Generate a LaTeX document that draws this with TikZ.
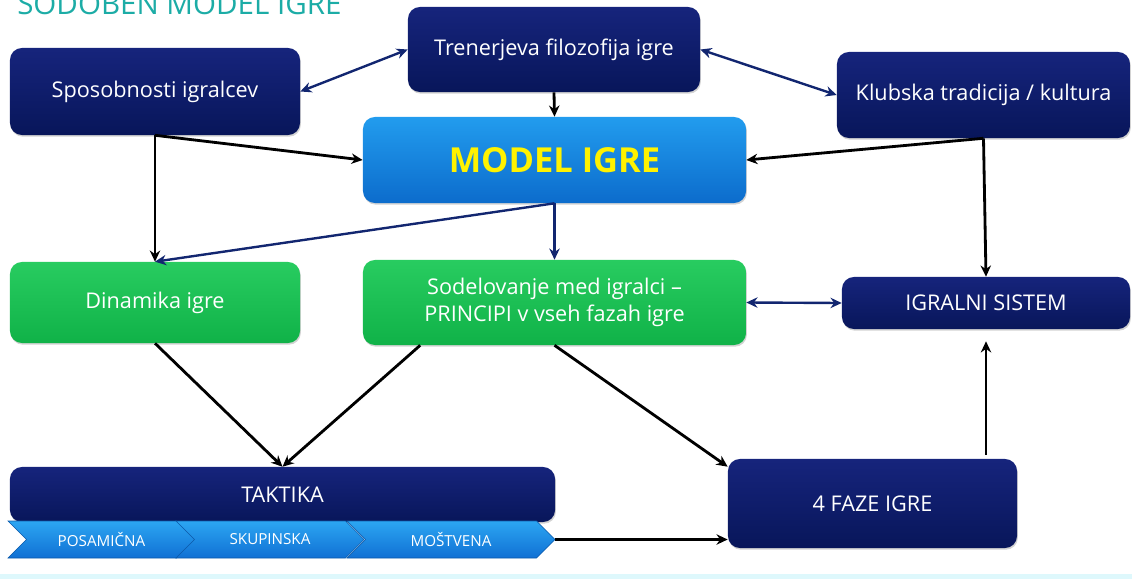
\documentclass[tikz,border=0pt]{standalone}
\usepackage{fontspec}
\setmainfont{Open Sans}
\usepackage{tikz}
\usetikzlibrary{arrows.meta, positioning, calc, shapes.symbols, shadows}
\definecolor{navytop}{RGB}{22,36,124}
\definecolor{navybot}{RGB}{8,22,90}
\definecolor{modeltop}{RGB}{34,156,238}
\definecolor{modelbot}{RGB}{12,108,204}
\definecolor{greentop}{RGB}{40,204,96}
\definecolor{greenbot}{RGB}{16,178,72}
\definecolor{chevtop}{RGB}{44,166,242}
\definecolor{chevbot}{RGB}{16,112,212}
\definecolor{linknavy}{RGB}{18,38,112}
\definecolor{titleteal}{RGB}{28,172,166}
\definecolor{modelyellow}{RGB}{255,242,0}
\definecolor{bandcyan}{RGB}{222,248,252}

\tikzset{
  box/.style={rounded corners=3mm, text=white, align=center, inner sep=0pt,
    font=\fontsize{15.4}{19.5}\selectfont,
    drop shadow={opacity=0.35, shadow xshift=0.6pt, shadow yshift=-1.2pt}},
  navybox/.style={box, top color=navytop, bottom color=navybot},
  greenbox/.style={box, top color=greentop, bottom color=greenbot},
  modelbox/.style={box, top color=modeltop, bottom color=modelbot},
  chevron/.style={signal, signal from=west, signal to=east, signal pointer angle=90,
    top color=chevtop, bottom color=chevbot, draw=chevbot!80!black, line width=0.4pt,
    text=white, minimum height=0.925cm, inner sep=0pt, font=\fontsize{10.8}{12}\selectfont},
  blackarrow/.style={-{Stealth[length=2.8mm,width=2.6mm]}, line width=2pt, black},
  navyarrow/.style={-{Stealth[length=2.8mm,width=2.6mm]}, line width=1.7pt, linknavy},
  navyboth/.style={navyarrow, {Stealth[length=2.8mm,width=2.6mm]}-{Stealth[length=2.8mm,width=2.6mm]}},
}

\begin{document}
\begin{tikzpicture}[x=0.025cm, y=-0.025cm]
\useasboundingbox (0,0) rectangle (1132,579);
\fill[bandcyan] (0,574) rectangle (1132,579);

% Title (cut at the top)
\node[anchor=base west, text=titleteal, inner sep=0pt,
      font=\fontsize{21}{24}\selectfont] (title) at (17,14) {SODOBEN MODEL IGRE};

% Top row
\node[navybox, minimum width=7.25cm, minimum height=2.175cm] (spos) at (155,91.5) {Sposobnosti igralcev};
\node[navybox, minimum width=7.3cm, minimum height=2.125cm] (trener) at (554,49.5) {Trenerjeva filozofija igre};
\node[navybox, minimum width=7.325cm, minimum height=2.15cm] (klub) at (983.5,95) {Klubska tradicija / kultura};

% Model
\node[modelbox, minimum width=9.575cm, minimum height=2.15cm, text=modelyellow,
      font=\fontsize{24.5}{28}\selectfont\bfseries] (model) at (554.5,160) {MODEL IGRE};

% Middle row
\node[greenbox, minimum width=7.25cm, minimum height=2.025cm] (dinam) at (155,302.5) {Dinamika igre};
\node[greenbox, minimum width=9.575cm, minimum height=2.125cm] (sodel) at (554.5,302.5) {Sodelovanje med igralci --\\PRINCIPI v vseh fazah igre};
\node[navybox, minimum width=7.2cm, minimum height=1.3cm] (sistem) at (986,303) {IGRALNI SISTEM};

% Bottom row
\node[navybox, minimum width=13.625cm, minimum height=1.375cm] (taktika) at (282.5,494.5) {TAKTIKA};
\node[chevron, minimum width=4.675cm] (posam) at (101.5,539.5) {POSAMIČNA};
\node[chevron, minimum width=4.7cm] (skup) at (270,539.5) {SKUPINSKA};
\node[chevron, minimum width=5.2cm] (most) at (451,539.5) {MOŠTVENA};
\node[navybox, minimum width=7.225cm, minimum height=2.225cm] (faze) at (872.5,503.5) {4 FAZE IGRE};

% Connectors
\draw[navyboth] (trener.west) -- (spos.east);
\draw[navyboth] (trener.east) -- (klub.west);
\draw[blackarrow] (trener.south) -- (model.north);
\draw[blackarrow] (spos.south) -- (model.west);
\draw[blackarrow] (spos.south) -- (dinam.north);
\draw[blackarrow] (klub.south) -- (model.east);
\draw[blackarrow] (klub.south) -- (sistem.north);
\draw[navyarrow] (model.south) -- (dinam.north);
\draw[navyarrow] (model.south) -- (sodel.north);
\draw[navyboth] (sodel.east) -- (sistem.west);
\draw[blackarrow] (dinam.south) -- (taktika.north);
\draw[blackarrow] ($(sodel.south west)!0.15!(sodel.south east)$) -- (taktika.north);
\draw[blackarrow] (sodel.south) -- ($(faze.north west)+(0,8)$);
\draw[blackarrow] (most.east) -- (most.east -| faze.west);
\draw[blackarrow, shorten <=0.1cm, shorten >=0.3cm] (faze.north -| sistem.south) -- (sistem.south);

\end{tikzpicture}
\end{document}
